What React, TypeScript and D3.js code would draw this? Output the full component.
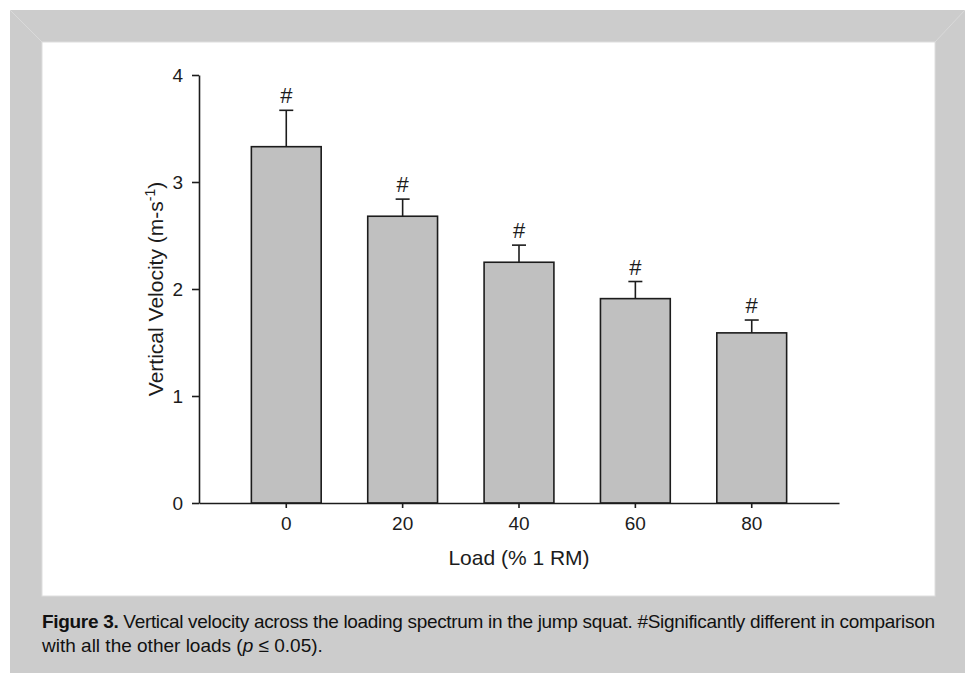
import React, { useEffect, useRef } from "react";
import * as d3 from "d3";

const loads = ["0", "20", "40", "60", "80"];
const velocity = [3.33, 2.68, 2.25, 1.91, 1.59];
const sd = [0.34, 0.16, 0.16, 0.16, 0.12];
const yTicks = [0, 1, 2, 3, 4];

const W = 965;
const H = 675;
const ink = "#1c1c1c";
const font = "'Liberation Sans', Arial, Helvetica, sans-serif";

export default function App() {
   const ref = useRef<SVGSVGElement | null>(null);

   useEffect(() => {
      const svg = d3.select(ref.current);
      svg.selectAll("*").remove();

      // page frame
      svg.append("rect").attr("width", W).attr("height", H).attr("fill", "#fff");
      svg.append("rect")
         .attr("x", 10).attr("y", 10).attr("width", W - 10).attr("height", 663)
         .attr("fill", "#cccccc");
      svg.append("line").attr("x1", 10).attr("y1", 10).attr("x2", 42).attr("y2", 42)
         .attr("stroke", "#d9d9d9");
      svg.append("line").attr("x1", 965).attr("y1", 10).attr("x2", 935).attr("y2", 42)
         .attr("stroke", "#d9d9d9");
      svg.append("rect")
         .attr("x", 42).attr("y", 42).attr("width", 893).attr("height", 554)
         .attr("fill", "#fff").attr("stroke", "#dedede").attr("stroke-width", 1);

      const left = 199, right = 839, top = 75, bottom = 503;

      const y = d3.scaleLinear().domain([0, 4]).range([bottom, top]);
      const x = d3.scaleBand().domain(loads).range([left, right])
         .paddingInner(0.4).paddingOuter(0.45);

      const g = svg.append("g");

      // bars
      g.selectAll(".bar")
         .data(loads)
         .enter()
         .append("rect")
         .attr("class", "bar")
         .attr("x", (d) => x(d) as number)
         .attr("width", x.bandwidth())
         .attr("y", (d, i) => y(velocity[i]))
         .attr("height", (d, i) => bottom - y(velocity[i]))
         .attr("fill", "#c0c0c0")
         .attr("stroke", ink)
         .attr("stroke-width", 1.6);

      // error bars + significance marks
      const cx = (d: string) => (x(d) as number) + x.bandwidth() / 2;
      const err = g.selectAll(".err").data(loads).enter().append("g").attr("class", "err");
      err.append("line")
         .attr("x1", cx).attr("x2", cx)
         .attr("y1", (d, i) => y(velocity[i]))
         .attr("y2", (d, i) => y(velocity[i] + sd[i]))
         .attr("stroke", ink).attr("stroke-width", 1.6);
      err.append("line")
         .attr("x1", (d) => cx(d) - 7).attr("x2", (d) => cx(d) + 7)
         .attr("y1", (d, i) => y(velocity[i] + sd[i]))
         .attr("y2", (d, i) => y(velocity[i] + sd[i]))
         .attr("stroke", ink).attr("stroke-width", 1.6);
      err.append("text")
         .attr("x", cx)
         .attr("y", (d, i) => y(velocity[i] + sd[i]) - 7)
         .attr("text-anchor", "middle")
         .attr("font-family", font).attr("font-size", 22)
         .attr("fill", ink)
         .text("#");

      // y axis
      const yAxis = g.append("g")
         .attr("transform", "translate(" + left + ",0)")
         .call(d3.axisLeft(y).tickValues(yTicks).tickSize(7).tickSizeOuter(0).tickPadding(9)
            .tickFormat(d3.format("d")));
      yAxis.selectAll("line, path").attr("stroke", ink).attr("stroke-width", 1.6);
      yAxis.selectAll("text").attr("font-family", font).attr("font-size", 19).attr("fill", ink);

      // x axis
      const xAxis = g.append("g")
         .attr("transform", "translate(0," + bottom + ")")
         .call(d3.axisBottom(x).tickSize(5).tickSizeOuter(0).tickPadding(9));
      xAxis.selectAll("line, path").attr("stroke", ink).attr("stroke-width", 1.6);
      xAxis.selectAll("text").attr("font-family", font).attr("font-size", 19).attr("fill", ink);

      // axis titles
      svg.append("text")
         .attr("x", (left + right) / 2).attr("y", 565)
         .attr("text-anchor", "middle")
         .attr("font-family", font).attr("font-size", 21).attr("fill", ink)
         .text("Load (% 1 RM)");

      const yl = svg.append("text")
         .attr("transform", "translate(163,289) rotate(-90)")
         .attr("text-anchor", "middle")
         .attr("font-family", font).attr("font-size", 21).attr("fill", ink);
      yl.append("tspan").text("Vertical Velocity (m-s");
      yl.append("tspan").attr("font-size", 14).attr("dy", -8).text("-1");
      yl.append("tspan").attr("dy", 8).text(")");

      // caption
      const c1 = svg.append("text")
         .attr("x", 42).attr("y", 628)
         .attr("font-family", font).attr("font-size", 19).attr("fill", "#111")
         .attr("textLength", 893).attr("lengthAdjust", "spacing");
      c1.append("tspan").attr("font-weight", "bold").text("Figure 3.");
      c1.append("tspan").text(" Vertical velocity across the loading spectrum in the jump squat. #Significantly different in comparison");

      const c2 = svg.append("text")
         .attr("x", 42).attr("y", 652)
         .attr("font-family", font).attr("font-size", 19).attr("fill", "#111");
      c2.append("tspan").text("with all the other loads (");
      c2.append("tspan").attr("font-style", "italic").text("p");
      c2.append("tspan").text(" \u2264 0.05).");
   }, []);

   return (
      <div style={{ position: "absolute", left: 0, top: 0 }}>
         <svg ref={ref} width={W} height={H} style={{ display: "block" }} />
      </div>
   );
}
